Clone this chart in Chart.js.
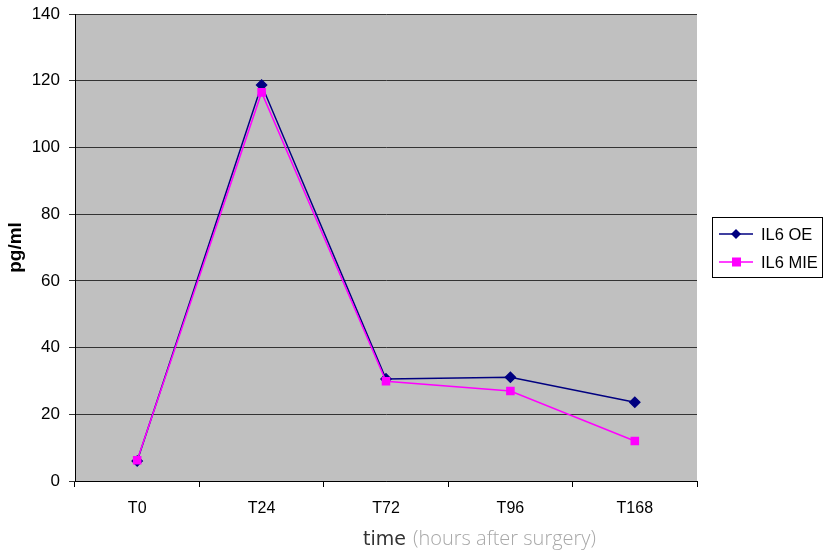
<!DOCTYPE html>
<html>
<head>
<meta charset="utf-8">
<script src="https://cdn.jsdelivr.net/npm/chart.js@4"></script>
<style>
  html, body { margin: 0; padding: 0; background: #fff; }
  #wrap { width: 824px; height: 552px; }
</style>
</head>
<body>
<div id="wrap"><canvas id="chart-il6"></canvas></div>
<script>
const timepoints = ["T0", "T24", "T72", "T96", "T168"];
const il6OE = [6.0, 118.7, 30.6, 31.1, 23.6];
const il6MIE = [6.2, 116.5, 29.9, 27.0, 12.0];
const yTicks = [0, 20, 40, 60, 80, 100, 120, 140];

// grey plot area like the old spreadsheet charts
const plotBg = {
  id: "plotBg",
  beforeDraw(chart) {
    const { ctx, chartArea: a } = chart;
    ctx.save();
    ctx.fillStyle = "#c0c0c0";
    ctx.fillRect(a.left, a.top, a.right - a.left, a.bottom - a.top);
    ctx.restore();
  },
};

// legend box with line + marker, and the two-tone x title
const extras = {
  id: "extras",
  afterDraw(chart) {
    const ctx = chart.ctx;
    ctx.save();
    ctx.strokeStyle = "#000";
    ctx.lineWidth = 1;
    ctx.strokeRect(712.5, 217.5, 110, 60);
    chart.data.datasets.forEach((ds, i) => {
      const y = 234 + i * 28;
      ctx.strokeStyle = ds.borderColor;
      ctx.lineWidth = 1.5;
      ctx.beginPath();
      ctx.moveTo(719, y);
      ctx.lineTo(753, y);
      ctx.stroke();
      ctx.fillStyle = ds.borderColor;
      if (ds.pointStyle === "rectRot") {
        ctx.beginPath();
        ctx.moveTo(736, y - 5);
        ctx.lineTo(741, y);
        ctx.lineTo(736, y + 5);
        ctx.lineTo(731, y);
        ctx.closePath();
        ctx.fill();
      } else {
        ctx.fillRect(732, y - 4.5, 9, 9);
      }
      ctx.fillStyle = "#000";
      ctx.font = "16.5px 'Liberation Sans', Arial, sans-serif";
      ctx.textBaseline = "middle";
      ctx.textAlign = "left";
      ctx.fillText(ds.label, 761, y + 1);
    });

    ctx.textBaseline = "alphabetic";
    ctx.font = "19px 'DejaVu Sans', sans-serif";
    ctx.fillStyle = "#333";
    ctx.fillText("time", 363, 545);
    const w = ctx.measureText("time ").width;
    ctx.font = "300 20px 'Open Sans', 'DejaVu Sans', sans-serif";
    ctx.fillStyle = "#a8a8a8";
    ctx.fillText("(hours after surgery)", 363 + w + 1, 545);
    ctx.restore();
  },
};

new Chart(document.getElementById("chart-il6"), {
  type: "line",
  data: {
    labels: timepoints,
    datasets: [
      {
        label: "IL6 OE",
        data: il6OE,
        borderColor: "#000080",
        backgroundColor: "#000080",
        borderWidth: 1.5,
        pointStyle: "rectRot",
        pointRadius: 5,
        tension: 0,
        order: 1,
      },
      {
        label: "IL6 MIE",
        data: il6MIE,
        borderColor: "#ff00ff",
        backgroundColor: "#ff00ff",
        borderWidth: 1.5,
        pointStyle: "rect",
        pointRadius: 5,
        tension: 0,
        order: 0,
      },
    ],
  },
  options: {
    responsive: true,
    maintainAspectRatio: false,
    animation: false,
    layout: { padding: { top: 14, right: 127, left: 0, bottom: 0 } },
    scales: {
      x: {
        offset: true,
        grid: {
          offset: true,
          drawOnChartArea: false,
          drawTicks: true,
          tickLength: 6,
          color: "#000",
        },
        border: { color: "#000", width: 1 },
        ticks: {
          color: "#000",
          padding: 12,
          font: { size: 16, family: "'Liberation Sans', Arial, sans-serif" },
        },
        afterFit(scale) {
          scale.height = 71;
        },
      },
      y: {
        min: 0,
        max: 140,
        afterBuildTicks(scale) {
          scale.ticks = yTicks.map((v) => ({ value: v }));
        },
        grid: { color: "#333", tickLength: 6, lineWidth: 1 },
        border: { color: "#000", width: 1 },
        ticks: {
          color: "#000",
          padding: 9,
          font: { size: 17, family: "'Liberation Sans', Arial, sans-serif" },
        },
        title: {
          display: true,
          text: "pg/ml",
          color: "#000",
          padding: { top: 4, bottom: 0 },
          font: { size: 19, weight: "bold", family: "'Liberation Sans', Arial, sans-serif" },
        },
        afterFit(scale) {
          scale.width = 75;
          scale.paddingTop = 0;
          scale.paddingBottom = 0;
        },
      },
    },
    plugins: {
      legend: { display: false },
      tooltip: { enabled: false },
    },
  },
  plugins: [plotBg, extras],
});
</script>
</body>
</html>
